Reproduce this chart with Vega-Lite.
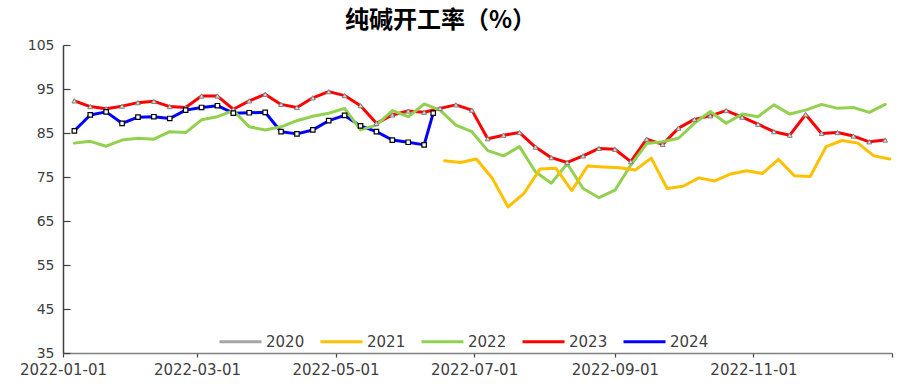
{
  "$schema": "https://vega.github.io/schema/vega-lite/v6.json",
  "autosize": {"type": "none"},
  "padding": {"left": 63, "top": 45, "right": 18, "bottom": 31},
  "width": 829,
  "height": 308,
  "background": "white",
  "config": {"view": {"stroke": null}},
  "title": {"text": "纯碱开工率（%）", "font": "Noto Sans CJK SC", "fontSize": 24, "fontWeight": "bold", "color": "#000000", "anchor": "middle", "dx": -37, "offset": 5},
  "datasets": {
    "d": [
      {"date": "2022/01/06", "year": "2023", "v": 92.3},
      {"date": "2022/01/13", "year": "2023", "v": 91.0},
      {"date": "2022/01/20", "year": "2023", "v": 90.5},
      {"date": "2022/01/27", "year": "2023", "v": 91.1},
      {"date": "2022/02/03", "year": "2023", "v": 91.9},
      {"date": "2022/02/10", "year": "2023", "v": 92.2},
      {"date": "2022/02/17", "year": "2023", "v": 91.0},
      {"date": "2022/02/24", "year": "2023", "v": 90.8},
      {"date": "2022/03/03", "year": "2023", "v": 93.4},
      {"date": "2022/03/10", "year": "2023", "v": 93.4},
      {"date": "2022/03/17", "year": "2023", "v": 90.4},
      {"date": "2022/03/24", "year": "2023", "v": 92.3},
      {"date": "2022/03/31", "year": "2023", "v": 93.8},
      {"date": "2022/04/07", "year": "2023", "v": 91.5},
      {"date": "2022/04/14", "year": "2023", "v": 90.8},
      {"date": "2022/04/21", "year": "2023", "v": 93.0},
      {"date": "2022/04/28", "year": "2023", "v": 94.4},
      {"date": "2022/05/05", "year": "2023", "v": 93.5},
      {"date": "2022/05/12", "year": "2023", "v": 91.2},
      {"date": "2022/05/19", "year": "2023", "v": 87.2},
      {"date": "2022/05/26", "year": "2023", "v": 89.1},
      {"date": "2022/06/02", "year": "2023", "v": 90.0},
      {"date": "2022/06/09", "year": "2023", "v": 89.7},
      {"date": "2022/06/16", "year": "2023", "v": 90.6},
      {"date": "2022/06/23", "year": "2023", "v": 91.4},
      {"date": "2022/06/30", "year": "2023", "v": 90.2},
      {"date": "2022/07/07", "year": "2023", "v": 83.7},
      {"date": "2022/07/14", "year": "2023", "v": 84.5},
      {"date": "2022/07/21", "year": "2023", "v": 85.1},
      {"date": "2022/07/28", "year": "2023", "v": 81.8},
      {"date": "2022/08/04", "year": "2023", "v": 79.4},
      {"date": "2022/08/11", "year": "2023", "v": 78.3},
      {"date": "2022/08/18", "year": "2023", "v": 79.8},
      {"date": "2022/08/25", "year": "2023", "v": 81.5},
      {"date": "2022/09/01", "year": "2023", "v": 81.3},
      {"date": "2022/09/08", "year": "2023", "v": 78.5},
      {"date": "2022/09/15", "year": "2023", "v": 83.6},
      {"date": "2022/09/22", "year": "2023", "v": 82.4},
      {"date": "2022/09/29", "year": "2023", "v": 86.1},
      {"date": "2022/10/06", "year": "2023", "v": 88.1},
      {"date": "2022/10/13", "year": "2023", "v": 88.9},
      {"date": "2022/10/20", "year": "2023", "v": 90.1},
      {"date": "2022/10/27", "year": "2023", "v": 88.6},
      {"date": "2022/11/03", "year": "2023", "v": 87.0},
      {"date": "2022/11/10", "year": "2023", "v": 85.3},
      {"date": "2022/11/17", "year": "2023", "v": 84.5},
      {"date": "2022/11/24", "year": "2023", "v": 89.2},
      {"date": "2022/12/01", "year": "2023", "v": 84.9},
      {"date": "2022/12/08", "year": "2023", "v": 85.1},
      {"date": "2022/12/15", "year": "2023", "v": 84.3},
      {"date": "2022/12/22", "year": "2023", "v": 83.0},
      {"date": "2022/12/29", "year": "2023", "v": 83.4},

      {"date": "2022/01/06", "year": "2024", "v": 85.5},
      {"date": "2022/01/13", "year": "2024", "v": 89.1},
      {"date": "2022/01/20", "year": "2024", "v": 89.8},
      {"date": "2022/01/27", "year": "2024", "v": 87.2},
      {"date": "2022/02/03", "year": "2024", "v": 88.6},
      {"date": "2022/02/10", "year": "2024", "v": 88.7},
      {"date": "2022/02/17", "year": "2024", "v": 88.3},
      {"date": "2022/02/24", "year": "2024", "v": 90.2},
      {"date": "2022/03/03", "year": "2024", "v": 90.8},
      {"date": "2022/03/10", "year": "2024", "v": 91.2},
      {"date": "2022/03/17", "year": "2024", "v": 89.5},
      {"date": "2022/03/24", "year": "2024", "v": 89.6},
      {"date": "2022/03/31", "year": "2024", "v": 89.7},
      {"date": "2022/04/07", "year": "2024", "v": 85.3},
      {"date": "2022/04/14", "year": "2024", "v": 84.8},
      {"date": "2022/04/21", "year": "2024", "v": 85.7},
      {"date": "2022/04/28", "year": "2024", "v": 87.8},
      {"date": "2022/05/05", "year": "2024", "v": 89.0},
      {"date": "2022/05/12", "year": "2024", "v": 86.6},
      {"date": "2022/05/19", "year": "2024", "v": 85.3},
      {"date": "2022/05/26", "year": "2024", "v": 83.4},
      {"date": "2022/06/02", "year": "2024", "v": 82.9},
      {"date": "2022/06/09", "year": "2024", "v": 82.3},
      {"date": "2022/06/13", "year": "2024", "v": 89.5},

      {"date": "2022/01/06", "year": "2022", "v": 82.7},
      {"date": "2022/01/13", "year": "2022", "v": 83.1},
      {"date": "2022/01/20", "year": "2022", "v": 82.0},
      {"date": "2022/01/27", "year": "2022", "v": 83.4},
      {"date": "2022/02/03", "year": "2022", "v": 83.8},
      {"date": "2022/02/10", "year": "2022", "v": 83.6},
      {"date": "2022/02/17", "year": "2022", "v": 85.3},
      {"date": "2022/02/24", "year": "2022", "v": 85.1},
      {"date": "2022/03/03", "year": "2022", "v": 88.0},
      {"date": "2022/03/10", "year": "2022", "v": 88.7},
      {"date": "2022/03/17", "year": "2022", "v": 90.1},
      {"date": "2022/03/24", "year": "2022", "v": 86.4},
      {"date": "2022/03/31", "year": "2022", "v": 85.7},
      {"date": "2022/04/07", "year": "2022", "v": 86.4},
      {"date": "2022/04/14", "year": "2022", "v": 87.8},
      {"date": "2022/04/21", "year": "2022", "v": 88.8},
      {"date": "2022/04/28", "year": "2022", "v": 89.5},
      {"date": "2022/05/05", "year": "2022", "v": 90.6},
      {"date": "2022/05/12", "year": "2022", "v": 85.7},
      {"date": "2022/05/19", "year": "2022", "v": 86.8},
      {"date": "2022/05/26", "year": "2022", "v": 90.1},
      {"date": "2022/06/02", "year": "2022", "v": 88.7},
      {"date": "2022/06/09", "year": "2022", "v": 91.6},
      {"date": "2022/06/16", "year": "2022", "v": 90.2},
      {"date": "2022/06/23", "year": "2022", "v": 86.8},
      {"date": "2022/06/30", "year": "2022", "v": 85.3},
      {"date": "2022/07/07", "year": "2022", "v": 81.0},
      {"date": "2022/07/14", "year": "2022", "v": 79.8},
      {"date": "2022/07/21", "year": "2022", "v": 81.9},
      {"date": "2022/07/28", "year": "2022", "v": 76.2},
      {"date": "2022/08/04", "year": "2022", "v": 73.6},
      {"date": "2022/08/11", "year": "2022", "v": 78.0},
      {"date": "2022/08/18", "year": "2022", "v": 72.4},
      {"date": "2022/08/25", "year": "2022", "v": 70.3},
      {"date": "2022/09/01", "year": "2022", "v": 72.0},
      {"date": "2022/09/08", "year": "2022", "v": 77.7},
      {"date": "2022/09/15", "year": "2022", "v": 82.6},
      {"date": "2022/09/22", "year": "2022", "v": 83.0},
      {"date": "2022/09/29", "year": "2022", "v": 83.8},
      {"date": "2022/10/06", "year": "2022", "v": 87.2},
      {"date": "2022/10/13", "year": "2022", "v": 89.9},
      {"date": "2022/10/20", "year": "2022", "v": 87.2},
      {"date": "2022/10/27", "year": "2022", "v": 89.3},
      {"date": "2022/11/03", "year": "2022", "v": 88.7},
      {"date": "2022/11/10", "year": "2022", "v": 91.4},
      {"date": "2022/11/17", "year": "2022", "v": 89.3},
      {"date": "2022/11/24", "year": "2022", "v": 90.2},
      {"date": "2022/12/01", "year": "2022", "v": 91.5},
      {"date": "2022/12/08", "year": "2022", "v": 90.6},
      {"date": "2022/12/15", "year": "2022", "v": 90.8},
      {"date": "2022/12/22", "year": "2022", "v": 89.7},
      {"date": "2022/12/29", "year": "2022", "v": 91.5},

      {"date": "2022/06/18", "year": "2021", "v": 78.7},
      {"date": "2022/06/25", "year": "2021", "v": 78.3},
      {"date": "2022/07/02", "year": "2021", "v": 79.1},
      {"date": "2022/07/09", "year": "2021", "v": 74.7},
      {"date": "2022/07/16", "year": "2021", "v": 68.2},
      {"date": "2022/07/23", "year": "2021", "v": 71.3},
      {"date": "2022/07/30", "year": "2021", "v": 76.8},
      {"date": "2022/08/06", "year": "2021", "v": 77.0},
      {"date": "2022/08/13", "year": "2021", "v": 71.9},
      {"date": "2022/08/20", "year": "2021", "v": 77.5},
      {"date": "2022/08/27", "year": "2021", "v": 77.3},
      {"date": "2022/09/03", "year": "2021", "v": 77.1},
      {"date": "2022/09/10", "year": "2021", "v": 76.6},
      {"date": "2022/09/17", "year": "2021", "v": 79.3},
      {"date": "2022/09/24", "year": "2021", "v": 72.4},
      {"date": "2022/10/01", "year": "2021", "v": 72.9},
      {"date": "2022/10/08", "year": "2021", "v": 74.8},
      {"date": "2022/10/15", "year": "2021", "v": 74.1},
      {"date": "2022/10/22", "year": "2021", "v": 75.7},
      {"date": "2022/10/29", "year": "2021", "v": 76.4},
      {"date": "2022/11/05", "year": "2021", "v": 75.8},
      {"date": "2022/11/12", "year": "2021", "v": 79.0},
      {"date": "2022/11/19", "year": "2021", "v": 75.3},
      {"date": "2022/11/26", "year": "2021", "v": 75.1},
      {"date": "2022/12/03", "year": "2021", "v": 81.9},
      {"date": "2022/12/10", "year": "2021", "v": 83.3},
      {"date": "2022/12/17", "year": "2021", "v": 82.7},
      {"date": "2022/12/24", "year": "2021", "v": 79.8},
      {"date": "2022/12/31", "year": "2021", "v": 79.1}
    ]
  },
  "data": {"name": "d"},
  "encoding": {
    "x": {
      "field": "date", "type": "temporal",
      "scale": {"domain": [{"year": 2022, "month": 1, "date": 1}, {"year": 2023, "month": 1, "date": 1}], "nice": false},
      "axis": {
        "title": null, "grid": false,
        "values": [{"year": 2022, "month": 1, "date": 1}, {"year": 2022, "month": 3, "date": 1}, {"year": 2022, "month": 5, "date": 1}, {"year": 2022, "month": 7, "date": 1}, {"year": 2022, "month": 9, "date": 1}, {"year": 2022, "month": 11, "date": 1}, {"year": 2023, "month": 1, "date": 1}],
        "labelExpr": "year(datum.value) >= 2023 ? '' : timeFormat(datum.value, '%Y-%m-%d')",
        "labelFont": "DejaVu Sans", "labelFontSize": 15, "labelColor": "#404040",
        "labelOverlap": false, "labelFlush": false, "labelPadding": 5,
        "domainColor": "#7f7f7f", "domainWidth": 1.5, "tickColor": "#404040", "tickSize": 4, "tickWidth": 1.2
      }
    },
    "y": {
      "field": "v", "type": "quantitative",
      "scale": {"domain": [35, 105], "nice": false, "zero": false},
      "axis": {
        "title": null, "grid": false,
        "values": [35, 45, 55, 65, 75, 85, 95, 105],
        "labelFont": "DejaVu Sans", "labelFontSize": 14, "labelColor": "#404040",
        "labelPadding": 16,
        "domainColor": "#404040", "domainWidth": 1.5, "tickColor": "#404040", "tickSize": -7, "tickWidth": 1.2
      }
    }
  },
  "layer": [
    {
      "mark": {"type": "line", "strokeJoin": "round", "strokeCap": "round"},
      "encoding": {
        "color": {
          "field": "year", "type": "nominal",
          "scale": {"domain": ["2020", "2021", "2022", "2023", "2024"], "range": ["#A5A5A5", "#FFC000", "#92D050", "#FF0000", "#0000FF"]},
          "legend": {
            "title": null, "orient": "none", "direction": "horizontal",
            "legendX": 155, "legendY": 274,
            "symbolType": "stroke", "symbolSize": 1764, "symbolStrokeWidth": 3,
            "labelFont": "DejaVu Sans", "labelFontSize": 15, "labelColor": "#404040",
            "labelOffset": 3, "columnPadding": 9
          }
        },
        "strokeWidth": {
          "field": "year", "type": "nominal",
          "scale": {"domain": ["2021", "2022", "2023", "2024"], "range": [3, 3, 4, 4]},
          "legend": null
        }
      }
    },
    {
      "transform": [{"filter": "datum.year == '2023'"}],
      "mark": {"type": "point", "shape": "triangle-up", "filled": true, "fill": "#d9d9d9", "stroke": "#808080", "strokeWidth": 1, "size": 24, "opacity": 1}
    },
    {
      "transform": [{"filter": "datum.year == '2024'"}],
      "mark": {"type": "point", "shape": "square", "filled": true, "fill": "#ffffff", "stroke": "#000000", "strokeWidth": 1.2, "size": 20, "opacity": 1}
    }
  ]
}
